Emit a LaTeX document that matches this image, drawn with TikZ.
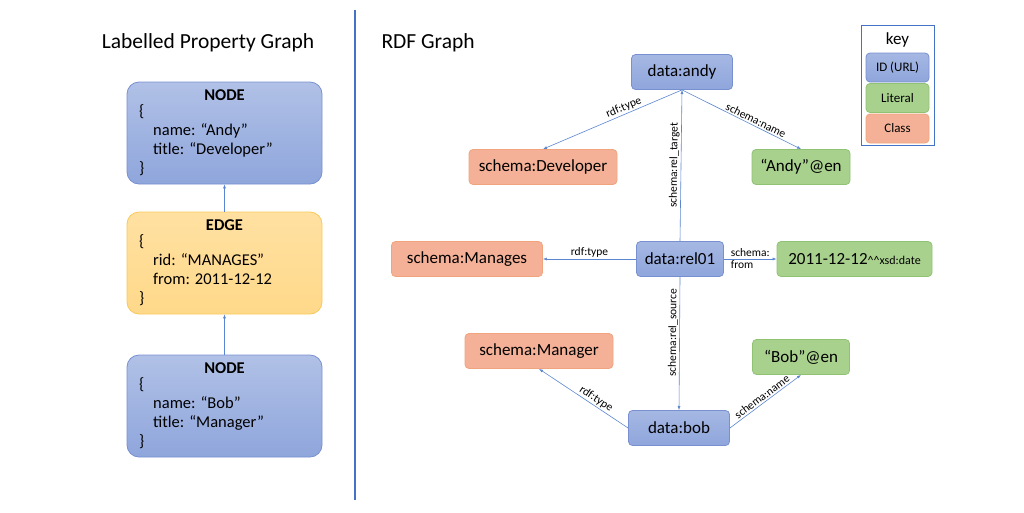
\documentclass[tikz,border=0pt]{standalone}
\usepackage{fontspec}
\setmainfont{Carlito}
\usetikzlibrary{arrows.meta,calc}
\definecolor{bfill}{HTML}{8FA6DC}
\definecolor{bdraw}{HTML}{7890CF}
\definecolor{ofill}{HTML}{F4B197}
\definecolor{odraw}{HTML}{F0A47E}
\definecolor{gfill}{HTML}{A9D18E}
\definecolor{gdraw}{HTML}{90C273}
\definecolor{yfill}{HTML}{FFD98A}
\definecolor{ydraw}{HTML}{F7C85A}
\definecolor{arr}{HTML}{5B85D0}
\definecolor{divc}{HTML}{4472C4}
\begin{document}
\begin{tikzpicture}[x=1pt,y=-1pt,
  box/.style={rounded corners=4pt,line width=0.8pt,minimum height=35pt,font=\fontsize{17}{19}\selectfont,inner sep=0pt},
  idb/.style={box,draw=bdraw,top color=bfill!80!white,bottom color=bfill},
  cls/.style={box,draw=odraw,fill=ofill},
  lit/.style={box,draw=gdraw,fill=gfill},
  big/.style={rounded corners=12pt,line width=0.8pt,minimum width=195pt,minimum height=102pt,inner sep=0pt},
  ar/.style={draw=arr,line width=0.6pt,-{Latex[length=4pt,width=3pt]}},
  lb/.style={font=\fontsize{11.5}{12}\selectfont,inner sep=1.5pt},
  lt/.style={font=\fontsize{16.5}{19}\selectfont,anchor=north west,align=left,inner sep=0pt}]
\useasboundingbox (0,0) rectangle (1024,512);
% left
\node[font=\fontsize{21.5}{24}\selectfont] (lt) at (208,43) {Labelled Property Graph};
\node[big,draw=bdraw,top color=bfill!70!white,bottom color=bfill] (na) at (224.5,133) {};
\node[big,draw=ydraw,top color=yfill!80!white,bottom color=yfill] (ed) at (224.5,263) {};
\node[big,draw=bdraw,top color=bfill!70!white,bottom color=bfill] (nb) at (224.5,406) {};
\node[font=\fontsize{16.5}{19}\selectfont\bfseries] (na1) at (224.5,95) {NODE};
\node[lt] (na2) at (139,104) {\{\\\hspace*{14pt}name: “Andy”\\\hspace*{14pt}title: “Developer”\\\}};
\node[font=\fontsize{16.5}{19}\selectfont\bfseries] (ed1) at (224.5,225) {EDGE};
\node[lt] (ed2) at (139,234) {\{\\\hspace*{14pt}rid: “MANAGES”\\\hspace*{14pt}from: 2011-12-12\\\}};
\node[font=\fontsize{16.5}{19}\selectfont\bfseries] (nb1) at (224.5,368) {NODE};
\node[lt] (nb2) at (139,377) {\{\\\hspace*{14pt}name: “Bob”\\\hspace*{14pt}title: “Manager”\\\}};
\draw[ar] (ed) -- (na);
\draw[ar] (nb) -- (ed);
% divider
\coordinate (d1) at (355,10); \coordinate (d2) at (355,500);
\draw[divc,line width=2.5pt] (d1) -- (d2);
% right
\node[font=\fontsize{21.5}{24}\selectfont,anchor=west] (rt) at (378,43) {RDF Graph};
\node[idb,minimum width=101pt] (andy) at (682,72) {data:andy};
\node[cls,minimum width=148pt] (dev) at (543,167) {schema:Developer};
\node[lit,minimum width=98pt] (aen) at (801,167) {“Andy”@en};
\node[cls,minimum width=151pt] (mgs) at (467,259) {schema:Manages};
\node[idb,minimum width=87pt] (rel) at (680,259) {data:rel01};
\node[lit,minimum width=155pt] (date) at (854.5,259) {2011-12-12{\fontsize{12}{13}\selectfont\^{}\^{}xsd:date}};
\node[cls,minimum width=148pt] (mgr) at (539,351) {schema:Manager};
\node[lit,minimum width=97pt] (ben) at (801,357) {“Bob”@en};
\node[idb,minimum width=101pt] (bob) at (679,428) {data:bob};
\draw[ar] (andy.south) -- node[lb,sloped,above,pos=0.4] {rdf:type} (dev.north);
\draw[ar] (andy.south) -- node[lb,sloped,above,pos=0.6] {schema:name} (aen.north);
\draw[ar] (rel.north) -- node[lb,sloped,above,pos=0.5] {schema:rel\_target} (andy.south);
\draw[ar] (rel) -- node[lb,above] {rdf:type} (mgs);
\draw[ar] (rel) -- node[lb,align=left] {schema:\\from} (date);
\draw[ar] (rel.south) -- node[lb,sloped,above,pos=0.42] {schema:rel\_source} (bob.north);
\draw[ar] (bob.west) -- node[lb,sloped,above,pos=0.4] {rdf:type} (mgr.south);
\draw[ar] (bob.east) -- node[lb,sloped,above,pos=0.5] {schema:name} (ben.south);
% key
\node[draw=divc,line width=0.8pt,minimum width=73pt,minimum height=120pt,inner sep=0pt] (key) at (897.5,85) {};
\node[font=\fontsize{17}{19}\selectfont] (kt) at (897.5,40) {key};
\node[idb,minimum width=63pt,minimum height=29pt,font=\fontsize{13}{15}\selectfont] (k1) at (897.5,67.5) {ID (URL)};
\node[lit,minimum width=63pt,minimum height=29pt,font=\fontsize{13}{15}\selectfont] (k2) at (897.5,98) {Literal};
\node[cls,minimum width=63pt,minimum height=29pt,font=\fontsize{13}{15}\selectfont] (k3) at (897.5,128.5) {Class};
\end{tikzpicture}
\end{document}
